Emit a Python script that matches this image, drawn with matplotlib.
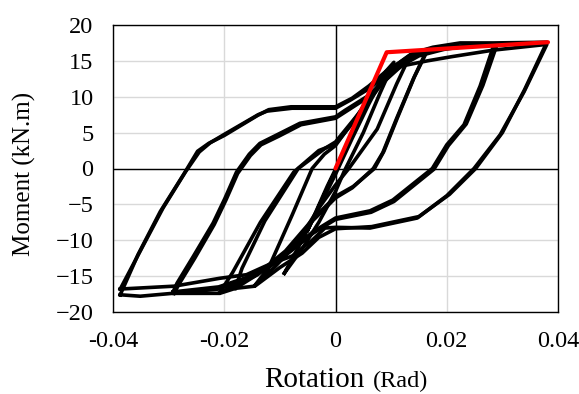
import matplotlib
matplotlib.use("Agg")
import matplotlib.pyplot as plt

# ---- data (rotation in rad, moment in kN.m) ----
c1_rot = [-0.005, -0.0025, 0.0, 0.0025, 0.005, 0.0035, 0.001, -0.0015, -0.005]
c1_mom = [-8.6, -4.5, -0.3, 4.0, 8.6, 6.0, 1.5, -2.5, -8.6]

c2_rot = [-0.0092, -0.006, -0.003, 0.0, 0.003, 0.006, 0.009, 0.0105,
          0.008, 0.005, 0.0015, 0.0, -0.003, -0.006, -0.0092]
c2_mom = [-14.6, -10.0, -5.5, -0.8, 4.2, 9.0, 13.5, 14.8,
          10.5, 5.0, -0.5, -3.2, -7.5, -11.2, -14.6]

c3_rot = [-0.0145, -0.012, -0.0078, -0.0042, -0.002, 0.0, 0.004, 0.008, 0.011, 0.0135,
          0.011, 0.0075, 0.0024, 0.0, -0.003, -0.007, -0.011, -0.0145]
c3_mom = [-16.3, -13.8, -6.5, 0.0, 2.0, 3.2, 7.5, 11.8, 14.5, 15.9,
          11.8, 5.5, 0.0, -2.3, -5.5, -10.5, -13.8, -16.3]

c4a_rot = [-0.018, -0.0168, -0.0127, -0.0067, -0.0019, 0.0, 0.004, 0.008, 0.012, 0.0165,
           0.014, 0.011, 0.0085, 0.0068, 0.003, 0.0, -0.004, -0.009, -0.014, -0.0208]
c4a_mom = [-16.7, -13.9, -7.3, 0.0, 2.8, 3.7, 7.5, 11.8, 15.0, 16.6,
           12.5, 7.0, 2.2, 0.0, -2.7, -4.1, -7.2, -11.8, -14.8, -17.3]

c4b_rot = [-0.0208, -0.0185, -0.0135, -0.0075, -0.003, 0.0, 0.004, 0.008, 0.012, 0.0165,
           0.0142, 0.0112, 0.0087, 0.007, 0.0032, 0.0, -0.004, -0.009, -0.0145, -0.018]
c4b_mom = [-17.3, -14.5, -7.5, -0.5, 2.5, 3.4, 7.2, 11.5, 14.8, 16.4,
           12.8, 7.2, 2.4, 0.0, -2.5, -3.9, -7.0, -11.5, -15.0, -16.7]

c5a_rot = [-0.0292, -0.0285, -0.0256, -0.022, -0.0199, -0.0178, -0.0155, -0.0136, -0.0105,
           -0.0064, 0.0, 0.0017, 0.006, 0.009, 0.012, 0.015, 0.0195, 0.024, 0.0285,
           0.026, 0.0231, 0.020, 0.0174, 0.0103, 0.0062, 0.0, -0.004, -0.008, -0.012,
           -0.016, -0.021, -0.0292]
c5a_mom = [-17.2, -16.0, -12.3, -7.6, -4.2, -0.5, 2.0, 3.5, 4.7,
           6.3, 7.2, 8.1, 10.2, 12.5, 14.6, 15.9, 16.8, 17.2, 17.3,
           11.5, 6.1, 3.3, 0.0, -4.4, -5.9, -6.9, -8.8, -11.3, -13.6,
           -15.2, -16.5, -17.2]

c5b_rot = [-0.029, -0.0282, -0.0253, -0.0218, -0.0197, -0.0176, -0.0153, -0.0134, -0.0102,
           -0.0062, 0.0, 0.0018, 0.006, 0.009, 0.012, 0.015, 0.0195, 0.024, 0.029,
           0.0265, 0.0235, 0.0203, 0.0177, 0.0105, 0.0064, 0.0, -0.004, -0.008, -0.012,
           -0.016, -0.021, -0.029]
c5b_mom = [-17.4, -16.2, -12.5, -7.8, -4.4, -0.7, 1.8, 3.3, 4.5,
           6.1, 7.0, 7.9, 10.0, 12.3, 14.4, 15.7, 16.6, 17.1, 17.2,
           11.6, 6.2, 3.2, -0.1, -4.6, -6.1, -7.1, -9.0, -11.5, -13.8,
           -15.4, -16.8, -17.4]

c6a_rot = [-0.0387, -0.0351, -0.031, -0.027, -0.0245, -0.0225, -0.0199, -0.0139, -0.0123,
           -0.0078, 0.0, 0.0026, 0.0062, 0.009, 0.012, 0.0165, 0.021, 0.0284, 0.038,
           0.0339, 0.0296, 0.0249, 0.020, 0.0147, 0.0062, 0.0, -0.0019, -0.0042, -0.0078,
           -0.012, -0.016, -0.0208, -0.029, -0.0387]
c6a_mom = [-16.8, -11.5, -5.5, -0.5, 2.3, 3.6, 4.8, 7.5, 8.0,
           8.4, 8.4, 9.5, 11.2, 13.0, 14.3, 15.0, 15.6, 16.5, 17.3,
           10.7, 4.7, 0.0, -3.8, -6.9, -8.3, -8.2, -8.3, -10.0, -12.2,
           -13.4, -14.8, -15.3, -16.4, -16.8]

c6b_rot = [-0.0387, -0.0355, -0.0315, -0.0272, -0.0248, -0.0228, -0.020, -0.014, -0.012,
           -0.008, 0.0, 0.003, 0.006, 0.009, 0.012, 0.014, 0.0175, 0.0224, 0.0284, 0.038,
           0.034, 0.030, 0.0252, 0.0205, 0.015, 0.0065, 0.0, -0.003, -0.006, -0.010,
           -0.0145, -0.018, -0.0208, -0.0293, -0.0351, -0.0387]
c6b_mom = [-17.6, -12.0, -6.0, -0.7, 2.4, 3.5, 4.6, 7.4, 8.2,
           8.6, 8.6, 9.8, 11.5, 13.5, 15.0, 16.1, 16.9, 17.5, 17.5, 17.6,
           11.0, 5.0, 0.0, -3.6, -6.7, -8.1, -8.4, -9.6, -11.8, -13.8,
           -16.4, -16.7, -17.4, -17.4, -17.8, -17.6]

bilinear_rot = [0.0, 0.0092, 0.0382]
bilinear_mom = [0.0, 16.2, 17.6]

x_ticks = [-0.04, -0.02, 0, 0.02, 0.04]
x_tick_labels = ["-0.04", "-0.02", "0", "0.02", "0.04"]
y_ticks = [-20, -15, -10, -5, 0, 5, 10, 15, 20]

cycles = [(c1_rot, c1_mom), (c2_rot, c2_mom), (c3_rot, c3_mom),
          (c4a_rot, c4a_mom), (c4b_rot, c4b_mom),
          (c5a_rot, c5a_mom), (c5b_rot, c5b_mom),
          (c6a_rot, c6a_mom), (c6b_rot, c6b_mom)]

plt.rcParams['font.family'] = ['Liberation Serif', 'DejaVu Serif']

fig = plt.figure(figsize=(5.79, 3.94), dpi=100)
ax = fig.add_axes([113/579, 1-312/394, (558-113)/579, (312-25)/394])

for r, m in cycles:
    ax.plot(r, m, color='black', lw=2.6, solid_joinstyle='round', zorder=3)
ax.plot(bilinear_rot, bilinear_mom, color='#ff0000', lw=3.0,
        solid_capstyle='round', solid_joinstyle='round', zorder=4)

ax.set_xlim(-0.04, 0.04)
ax.set_ylim(-20, 20)
ax.set_xticks(x_ticks)
ax.set_xticklabels(x_tick_labels)
ax.set_yticks(y_ticks)
ax.grid(True, color='#d9d9d9', lw=1.0, zorder=0)
ax.set_axisbelow(True)
ax.axhline(0, color='black', lw=1.0, zorder=2)
ax.axvline(0, color='black', lw=1.0, zorder=2)
for s in ax.spines.values():
    s.set_color('black')
    s.set_linewidth(1.0)
ax.tick_params(length=0, labelsize=17.5)
ax.tick_params(axis='y', pad=14)
ax.tick_params(axis='x', pad=14)

fig.text(264/579, 1-387/394, "Rotation", fontsize=21, ha='left', va='baseline')
fig.text(373/579, 1-387/394, "(Rad)", fontsize=17.5, ha='left', va='baseline')
fig.text(24/579, 1-174/394, "Moment (kN.m)", fontsize=18, rotation=90,
         ha='center', va='center')

fig.savefig("out.png", dpi=100)
